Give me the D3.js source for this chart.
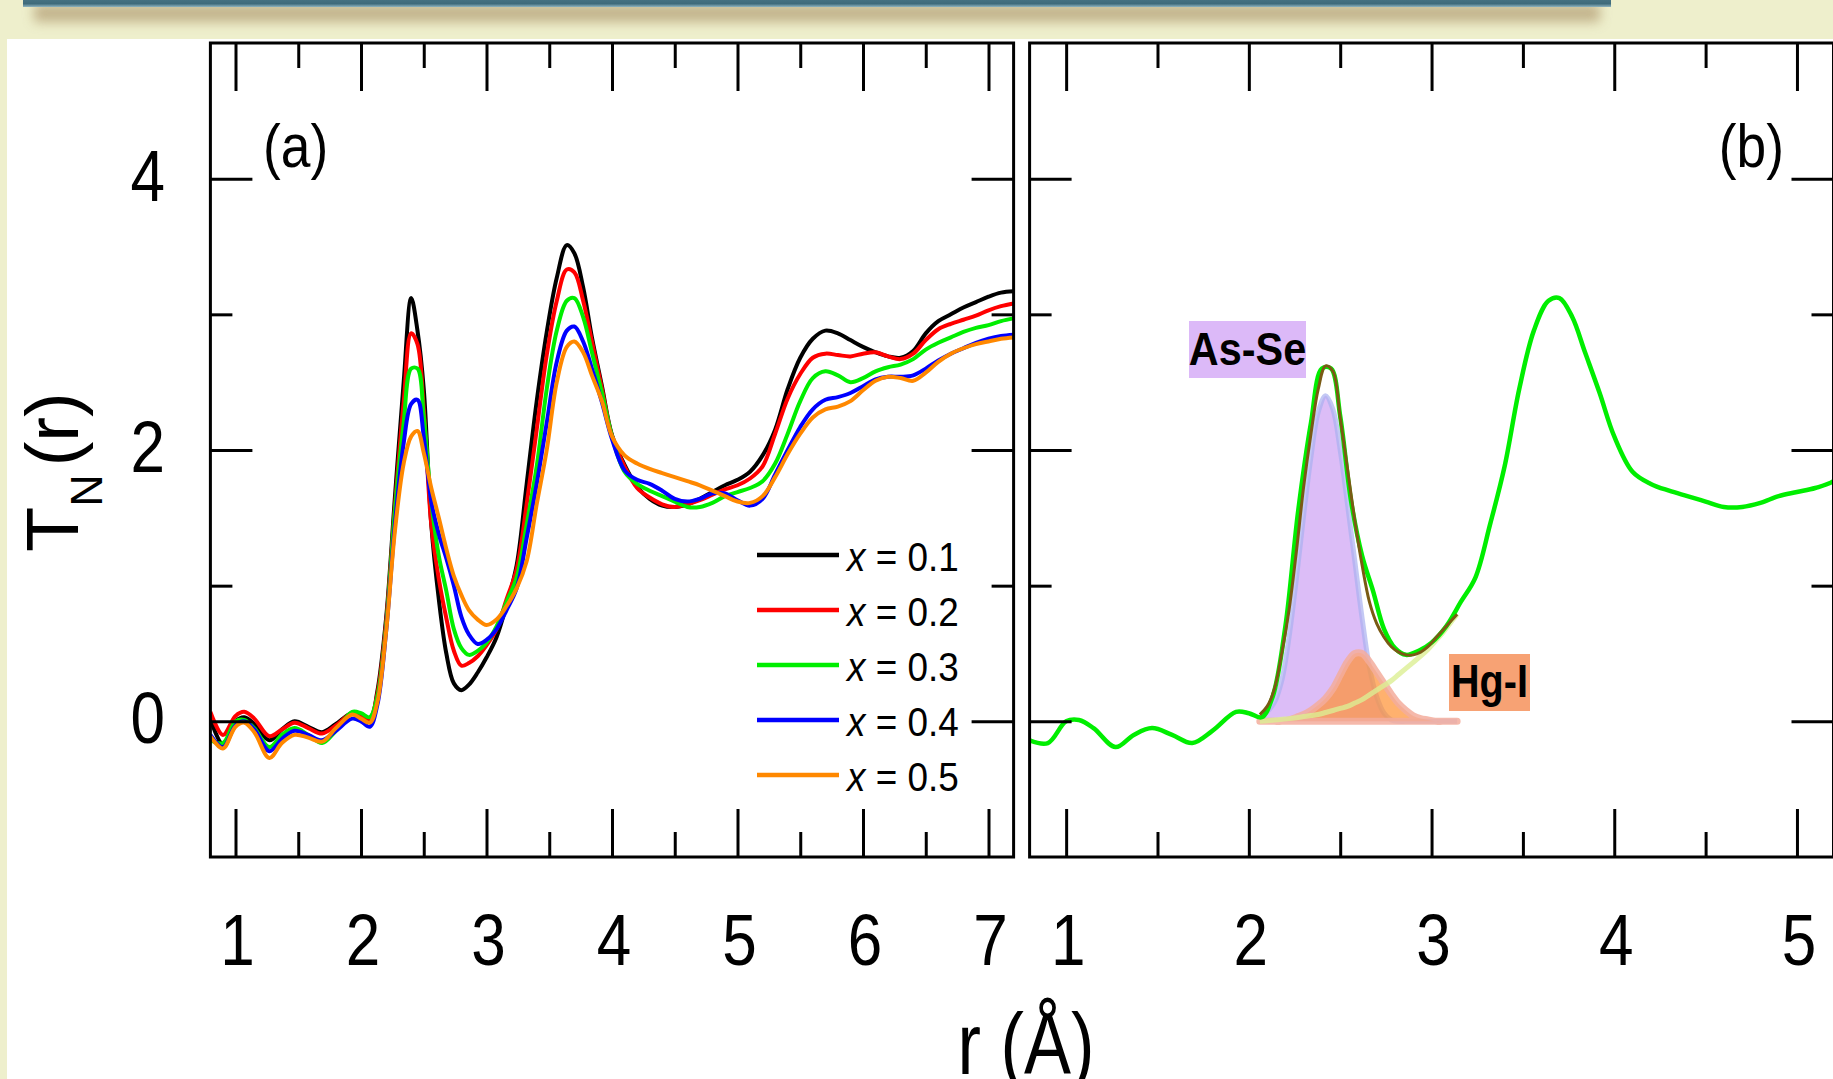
<!doctype html>
<html lang="en">
<head>
<meta charset="utf-8">
<title>T_N(r)</title>
<script src="https://cdn.jsdelivr.net/npm/d3@7"></script>
<style>
  body { margin: 0; background: #eeefcc; }
  svg { display: block; }
  text { font-family: "Liberation Sans", Arial, Helvetica, sans-serif; fill: #000; }
</style>
</head>
<body>
<svg width="1833" height="1079"></svg>
<script>
// ---- data ----
var rGrid = [0.80, 0.90, 1.00, 1.07, 1.15, 1.27, 1.37, 1.47, 1.58, 1.69,
             1.80, 1.93, 2.00, 2.07, 2.13, 2.20, 2.27, 2.34, 2.40, 2.45,
             2.50, 2.56, 2.62, 2.68, 2.74, 2.80, 2.86, 2.93, 3.00, 3.08,
             3.16, 3.24, 3.32, 3.40, 3.48, 3.56, 3.64, 3.70, 3.77, 3.84,
             3.92, 4.00, 4.10, 4.20, 4.30, 4.40, 4.50, 4.60, 4.70, 4.80,
             4.90, 5.00, 5.10, 5.20, 5.30, 5.40, 5.50, 5.60, 5.70, 5.80,
             5.90, 6.00, 6.10, 6.20, 6.30, 6.40, 6.50, 6.60, 6.70, 6.80,
             6.90, 7.00, 7.10, 7.20];

var tX01 = [0.02, -0.17, 0.00, 0.03, -0.02, -0.14, -0.06, 0.00, -0.04, -0.08,
            -0.02, 0.06, 0.03, 0.00, 0.22, 0.76, 1.65, 2.50, 3.12, 2.88,
            2.45, 1.45, 0.90, 0.50, 0.28, 0.23, 0.27, 0.36, 0.47, 0.62,
            0.86, 1.15, 1.75, 2.36, 2.87, 3.27, 3.51, 3.45, 3.20, 2.83,
            2.47, 2.11, 1.89, 1.73, 1.64, 1.59, 1.58, 1.60, 1.64, 1.69,
            1.74, 1.78, 1.84, 1.96, 2.15, 2.45, 2.68, 2.82, 2.88, 2.86,
            2.81, 2.76, 2.72, 2.69, 2.68, 2.73, 2.86, 2.95, 3.00, 3.05,
            3.09, 3.13, 3.16, 3.17];

var tX02 = [0.07, -0.10, 0.04, 0.07, 0.02, -0.11, -0.06, -0.01, -0.05, -0.09,
            -0.03, 0.06, 0.03, 0.02, 0.20, 0.73, 1.58, 2.35, 2.86, 2.78,
            2.30, 1.45, 1.05, 0.76, 0.52, 0.41, 0.43, 0.48, 0.56, 0.68,
            0.90, 1.12, 1.60, 2.15, 2.70, 3.10, 3.33, 3.31, 3.10, 2.80,
            2.45, 2.10, 1.88, 1.72, 1.65, 1.60, 1.58, 1.60, 1.63, 1.67,
            1.71, 1.74, 1.79, 1.88, 2.12, 2.38, 2.56, 2.68, 2.71, 2.70,
            2.69, 2.71, 2.72, 2.69, 2.67, 2.71, 2.81, 2.89, 2.93, 2.96,
            2.99, 3.03, 3.06, 3.08];

var tX03 = [-0.14, -0.16, 0.00, 0.01, -0.05, -0.19, -0.10, -0.05, -0.10, -0.16,
            -0.07, 0.07, 0.06, 0.03, 0.18, 0.70, 1.55, 2.20, 2.60, 2.60,
            2.25, 1.62, 1.22, 0.96, 0.68, 0.54, 0.49, 0.52, 0.58, 0.70,
            0.88, 1.06, 1.45, 1.88, 2.45, 2.88, 3.10, 3.12, 2.98, 2.72,
            2.42, 2.10, 1.84, 1.75, 1.70, 1.66, 1.62, 1.58, 1.58, 1.61,
            1.66, 1.69, 1.72, 1.77, 1.90, 2.12, 2.36, 2.53, 2.58, 2.55,
            2.50, 2.53, 2.58, 2.61, 2.63, 2.67, 2.74, 2.79, 2.83, 2.87,
            2.90, 2.92, 2.95, 2.97];

var tX04 = [-0.10, -0.19, -0.03, 0.00, -0.06, -0.22, -0.13, -0.07, -0.10, -0.14,
            -0.07, 0.02, 0.00, -0.04, 0.12, 0.66, 1.45, 2.05, 2.34, 2.37,
            2.10, 1.62, 1.38, 1.20, 1.00, 0.77, 0.64, 0.57, 0.60, 0.68,
            0.82, 0.98, 1.35, 1.75, 2.20, 2.65, 2.88, 2.91, 2.80, 2.60,
            2.35, 2.08, 1.85, 1.78, 1.75, 1.70, 1.64, 1.62, 1.64, 1.68,
            1.68, 1.63, 1.59, 1.64, 1.82, 2.00, 2.17, 2.30, 2.37, 2.39,
            2.42, 2.47, 2.52, 2.54, 2.54, 2.55, 2.60, 2.66, 2.71, 2.75,
            2.79, 2.82, 2.84, 2.85];

var tX05 = [-0.11, -0.20, -0.04, -0.01, -0.08, -0.27, -0.16, -0.10, -0.12, -0.15,
            -0.05, 0.05, 0.02, -0.01, 0.14, 0.66, 1.40, 1.90, 2.10, 2.14,
            1.98, 1.72, 1.50, 1.27, 1.07, 0.93, 0.82, 0.75, 0.71, 0.75,
            0.85, 0.98, 1.18, 1.60, 2.00, 2.50, 2.76, 2.80, 2.72, 2.55,
            2.36, 2.10, 1.96, 1.90, 1.86, 1.83, 1.80, 1.77, 1.74, 1.70,
            1.66, 1.62, 1.61, 1.66, 1.80, 1.97, 2.12, 2.24, 2.30, 2.32,
            2.36, 2.44, 2.51, 2.54, 2.53, 2.51, 2.57, 2.65, 2.71, 2.75,
            2.78, 2.80, 2.82, 2.83];

var seriesX = ["0.1", "0.2", "0.3", "0.4", "0.5"];
var seriesT = [tX01, tX02, tX03, tX04, tX05];
var seriesColor = ["#000000", "#ff0000", "#00ee00", "#0000ff", "#ff8800"];

// panel (b): peak fit of the x = 0.3 curve
var rFit = [2.06, 2.10, 2.14, 2.18, 2.22, 2.26, 2.30, 2.34, 2.38, 2.42,
            2.46, 2.50, 2.54, 2.58, 2.62, 2.66, 2.70, 2.74, 2.78, 2.82,
            2.86, 2.90, 2.94, 2.98, 3.02, 3.06, 3.10, 3.14];
var fitAsSe = [0.02, 0.07, 0.14, 0.30, 0.62, 1.05, 1.52, 1.95, 2.28, 2.40,
               2.30, 2.00, 1.60, 1.18, 0.76, 0.40, 0.18, 0.06, 0.01, 0,
               0, 0, 0, 0, 0, 0, 0, 0];
var fitHgI = [0, 0, 0, 0, 0.01, 0.03, 0.05, 0.08, 0.12, 0.17,
              0.24, 0.34, 0.44, 0.50, 0.50, 0.44, 0.36, 0.28, 0.20, 0.13,
              0.08, 0.04, 0.02, 0.01, 0, 0, 0, 0];
var fitThird = [0.00, 0.005, 0.01, 0.015, 0.02, 0.027, 0.035, 0.043, 0.05, 0.065,
                0.08, 0.095, 0.11, 0.135, 0.16, 0.195, 0.23, 0.265, 0.30, 0.345,
                0.39, 0.435, 0.48, 0.53, 0.59, 0.65, 0.72, 0.79];
var fitTotal = [0.05, 0.11, 0.24, 0.50, 0.82, 1.25, 1.73, 2.12, 2.45, 2.62,
                2.58, 2.24, 1.86, 1.48, 1.15, 0.88, 0.72, 0.62, 0.55, 0.51,
                0.49, 0.49, 0.51, 0.55, 0.61, 0.67, 0.73, 0.79];

var xTicksA = [1, 2, 3, 4, 5, 6, 7];
var xMinorA = [1.5, 2.5, 3.5, 4.5, 5.5, 6.5];
var xTicksB = [1, 2, 3, 4, 5];
var xMinorB = [1.5, 2.5, 3.5, 4.5];
var yTicks = [0, 2, 4];
var yMinor = [1, 3];

// ---- layout ----
var W = 1833, H = 1079;
var plotTop = 43, plotBottom = 857;
var svg = d3.select("svg");

var y = d3.scaleLinear().domain([-1, 5]).range([plotBottom, plotTop]);
var xa = d3.scaleLinear().domain([0.8, 7.2]).range([210.4, 1013.6]);
var xb = d3.scaleLinear().domain([0.8, 5.2]).range([1029.6, 1833.5]);

var defs = svg.append("defs");
var grad = defs.append("linearGradient").attr("id", "bar").attr("x1", 0).attr("y1", 0).attr("x2", 0).attr("y2", 1);
grad.append("stop").attr("offset", "0%").attr("stop-color", "#4d7888");
grad.append("stop").attr("offset", "70%").attr("stop-color", "#3f6b7b");
grad.append("stop").attr("offset", "100%").attr("stop-color", "#8fb4c0");
defs.append("filter").attr("id", "blur").attr("x", "-5%").attr("y", "-100%").attr("width", "110%").attr("height", "300%")
  .append("feGaussianBlur").attr("stdDeviation", 6);
defs.append("clipPath").attr("id", "clipA").append("rect")
  .attr("x", xa.range()[0]).attr("y", plotTop).attr("width", xa.range()[1] - xa.range()[0]).attr("height", plotBottom - plotTop);
defs.append("clipPath").attr("id", "clipB").append("rect")
  .attr("x", xb.range()[0]).attr("y", plotTop).attr("width", xb.range()[1] - xb.range()[0]).attr("height", plotBottom - plotTop);

// page background, header bar and white sheet
svg.append("rect").attr("width", W).attr("height", H).attr("fill", "#eeefcc");
svg.append("rect").attr("x", 34).attr("y", 4).attr("width", 1566).attr("height", 18)
  .attr("fill", "#b8a47c").attr("opacity", 0.8).attr("filter", "url(#blur)");
svg.append("rect").attr("x", 23).attr("y", -4).attr("width", 1588).attr("height", 11).attr("fill", "url(#bar)");
svg.append("rect").attr("x", 7).attr("y", 39).attr("width", W - 7).attr("height", H - 39).attr("fill", "#ffffff");

function curve(xs) {
  return d3.line().x(function(d) { return xs(d[0]); }).y(function(d) { return y(d[1]); })
    .curve(d3.curveCatmullRom.alpha(0.5));
}
function pairs(rs, ts) { return rs.map(function(r, i) { return [r, ts[i]]; }); }

function squeezed(parent, x, yy, str, size, sx, anchor) {
  return parent.append("text")
    .attr("transform", "translate(" + x + "," + yy + ") scale(" + sx + ",1)")
    .attr("text-anchor", anchor || "middle")
    .attr("font-size", size)
    .text(str);
}

function frame(xs, xMaj, xMin) {
  var g = svg.append("g");
  var x0 = xs.range()[0], x1 = xs.range()[1];
  function put(axis, tr) {
    var a = g.append("g").attr("transform", tr).call(axis.tickFormat(""));
    a.select(".domain").remove();
    a.selectAll("line").attr("stroke", "#000").attr("stroke-width", 3);
  }
  put(d3.axisBottom(xs).tickValues(xMaj).tickSize(-48).tickSizeOuter(0), "translate(0," + plotBottom + ")");
  put(d3.axisBottom(xs).tickValues(xMin).tickSize(-25).tickSizeOuter(0), "translate(0," + plotBottom + ")");
  put(d3.axisTop(xs).tickValues(xMaj).tickSize(-48).tickSizeOuter(0), "translate(0," + plotTop + ")");
  put(d3.axisTop(xs).tickValues(xMin).tickSize(-25).tickSizeOuter(0), "translate(0," + plotTop + ")");
  put(d3.axisLeft(y).tickValues(yTicks).tickSize(-42).tickSizeOuter(0), "translate(" + x0 + ",0)");
  put(d3.axisLeft(y).tickValues(yMinor).tickSize(-22).tickSizeOuter(0), "translate(" + x0 + ",0)");
  put(d3.axisRight(y).tickValues(yTicks).tickSize(-42).tickSizeOuter(0), "translate(" + x1 + ",0)");
  put(d3.axisRight(y).tickValues(yMinor).tickSize(-22).tickSizeOuter(0), "translate(" + x1 + ",0)");
  g.append("rect").attr("x", x0).attr("y", plotTop).attr("width", x1 - x0).attr("height", plotBottom - plotTop)
    .attr("fill", "none").attr("stroke", "#000").attr("stroke-width", 3);
  xMaj.forEach(function(v) {
    squeezed(g, xs(v) + 2, 965, String(v), 73, 0.85);
  });
}

// ---- panel (a) ----
var pa = svg.append("g").attr("clip-path", "url(#clipA)");
seriesT.forEach(function(ts, i) {
  pa.append("path").attr("d", curve(xa)(pairs(rGrid, ts)))
    .attr("fill", "none").attr("stroke", seriesColor[i]).attr("stroke-width", 4)
    .attr("stroke-linejoin", "round");
});
frame(xa, xTicksA, xMinorA);
yTicks.forEach(function(v) {
  squeezed(svg, 165, y(v) + 22, String(v), 73, 0.85, "end");
});
squeezed(svg, 263, 167, "(a)", 62, 0.86, "start");

// legend
var leg = svg.append("g");
seriesX.forEach(function(lab, i) {
  var ly = 555 + i * 55;
  leg.append("line").attr("x1", 757).attr("x2", 839).attr("y1", ly).attr("y2", ly)
    .attr("stroke", seriesColor[i]).attr("stroke-width", 4.5);
  var t = leg.append("text").attr("transform", "translate(847," + (ly + 16) + ") scale(0.9,1)")
    .attr("font-size", 41);
  t.append("tspan").attr("font-style", "italic").text("x");
  t.append("tspan").text(" = " + lab);
});

// ---- panel (b) ----
var pb = svg.append("g").attr("clip-path", "url(#clipB)");
var area = d3.area().x(function(d) { return xb(d[0]); }).y0(y(0)).y1(function(d) { return y(d[1]); })
  .curve(d3.curveCatmullRom.alpha(0.5));
pb.append("path").attr("d", area(pairs(rFit, fitAsSe))).attr("fill", "#dcbdf7");
pb.append("path").attr("d", curve(xb)(pairs(rFit, fitAsSe))).attr("fill", "none")
  .attr("stroke", "#aab0f0").attr("stroke-width", 5).attr("opacity", 0.7);
pb.append("path").attr("d", area(pairs(rFit, fitHgI))).attr("fill", "#ff9030").attr("fill-opacity", 0.7)
  .attr("stroke", "#f3ad9c").attr("stroke-width", 7).attr("stroke-opacity", 0.85).attr("stroke-linejoin", "round");
pb.append("path").attr("d", curve(xb)(pairs(rFit, fitThird))).attr("fill", "none")
  .attr("stroke", "#dcef94").attr("stroke-width", 5).attr("opacity", 0.8);
pb.append("path").attr("d", curve(xb)(pairs(rGrid, tX03))).attr("fill", "none")
  .attr("stroke", seriesColor[2]).attr("stroke-width", 4.5);
pb.append("path").attr("d", curve(xb)(pairs(rFit, fitTotal))).attr("fill", "none")
  .attr("stroke", "#7a5a14").attr("stroke-width", 3);

frame(xb, xTicksB, xMinorB);
squeezed(svg, 1784, 167, "(b)", 62, 0.86, "end");

// peak labels
svg.append("rect").attr("x", 1189).attr("y", 321).attr("width", 117).attr("height", 57).attr("fill", "#dcb9f8");
squeezed(svg, 1247.5, 365, "As-Se", 46, 0.9).attr("font-weight", "bold");
svg.append("rect").attr("x", 1449).attr("y", 654).attr("width", 81).attr("height", 57).attr("fill", "#f7a274");
squeezed(svg, 1489.5, 697, "Hg-I", 46, 0.86).attr("font-weight", "bold");

// axis titles
var yl = svg.append("text").attr("transform", "translate(78,552) rotate(-90)")
  .attr("font-size", 74).attr("text-anchor", "start");
yl.append("tspan").text("T");
yl.append("tspan").attr("font-size", 45).attr("dy", 24).text("N");
yl.append("tspan").attr("dy", -24).attr("dx", 8).text("(r)");
squeezed(svg, 1026, 1074, "r (\u00c5)", 88, 0.8);
</script>
</body>
</html>
